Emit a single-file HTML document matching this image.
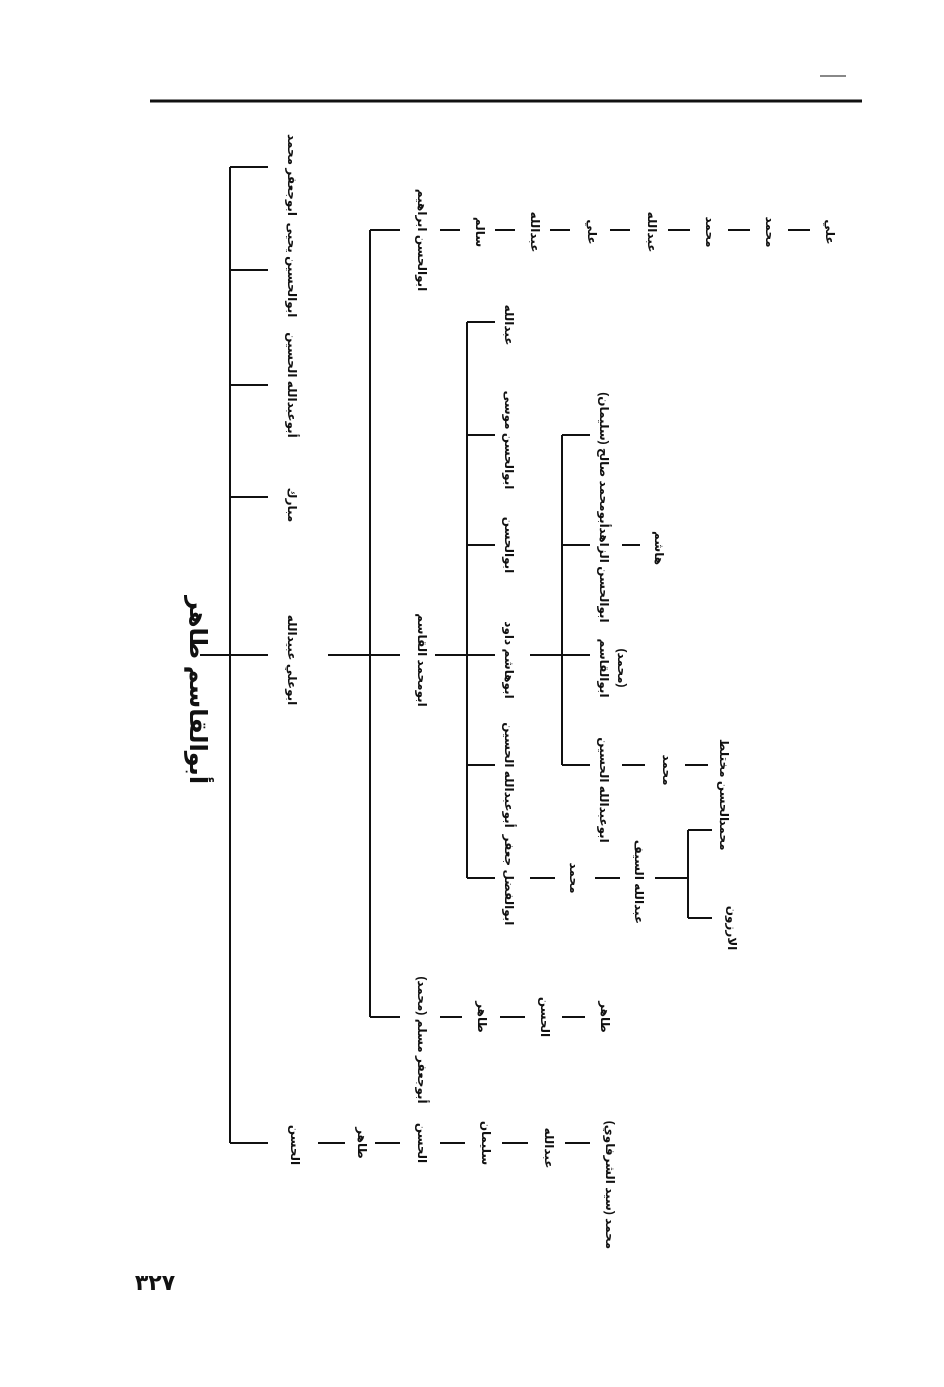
<!DOCTYPE html>
<html><head><meta charset="utf-8"><style>
html,body{margin:0;padding:0;background:#fff}
svg{display:block}
text{font-family:"Liberation Sans","DejaVu Sans",sans-serif;font-size:12px;font-weight:bold;fill:#111}
</style></head><body>
<svg width="944" height="1387" viewBox="0 0 944 1387" xmlns="http://www.w3.org/2000/svg">
<g stroke="#111" stroke-width="2" fill="none">
<line x1="150" y1="101" x2="862" y2="101" stroke-width="3"/>
<line x1="820" y1="76" x2="846" y2="76" stroke-width="1"/>
<line x1="200" y1="655" x2="230" y2="655"/>
<line x1="230" y1="167" x2="230" y2="1143"/>
<line x1="230" y1="167" x2="268" y2="167"/>
<line x1="230" y1="270" x2="268" y2="270"/>
<line x1="230" y1="385" x2="268" y2="385"/>
<line x1="230" y1="497" x2="268" y2="497"/>
<line x1="230" y1="655" x2="268" y2="655"/>
<line x1="230" y1="1143" x2="268" y2="1143"/>
<line x1="328" y1="655" x2="370" y2="655"/>
<line x1="370" y1="230" x2="370" y2="1017"/>
<line x1="370" y1="230" x2="400" y2="230"/>
<line x1="370" y1="655" x2="400" y2="655"/>
<line x1="370" y1="1017" x2="400" y2="1017"/>
<line x1="440" y1="230" x2="460" y2="230"/>
<line x1="495" y1="230" x2="515" y2="230"/>
<line x1="550" y1="230" x2="570" y2="230"/>
<line x1="610" y1="230" x2="630" y2="230"/>
<line x1="668" y1="230" x2="690" y2="230"/>
<line x1="728" y1="230" x2="750" y2="230"/>
<line x1="788" y1="230" x2="810" y2="230"/>
<line x1="435" y1="655" x2="467" y2="655"/>
<line x1="467" y1="322" x2="467" y2="878"/>
<line x1="467" y1="322" x2="495" y2="322"/>
<line x1="467" y1="435" x2="495" y2="435"/>
<line x1="467" y1="545" x2="495" y2="545"/>
<line x1="467" y1="655" x2="495" y2="655"/>
<line x1="467" y1="765" x2="495" y2="765"/>
<line x1="467" y1="878" x2="495" y2="878"/>
<line x1="530" y1="655" x2="562" y2="655"/>
<line x1="562" y1="435" x2="562" y2="765"/>
<line x1="562" y1="435" x2="590" y2="435"/>
<line x1="562" y1="545" x2="590" y2="545"/>
<line x1="562" y1="655" x2="590" y2="655"/>
<line x1="562" y1="765" x2="590" y2="765"/>
<line x1="622" y1="545" x2="640" y2="545"/>
<line x1="622" y1="765" x2="645" y2="765"/>
<line x1="685" y1="765" x2="708" y2="765"/>
<line x1="530" y1="878" x2="555" y2="878"/>
<line x1="595" y1="878" x2="620" y2="878"/>
<line x1="655" y1="878" x2="688" y2="878"/>
<line x1="688" y1="830" x2="688" y2="918"/>
<line x1="688" y1="830" x2="712" y2="830"/>
<line x1="688" y1="918" x2="712" y2="918"/>
<line x1="440" y1="1017" x2="462" y2="1017"/>
<line x1="500" y1="1017" x2="525" y2="1017"/>
<line x1="562" y1="1017" x2="585" y2="1017"/>
<line x1="318" y1="1143" x2="345" y2="1143"/>
<line x1="375" y1="1143" x2="400" y2="1143"/>
<line x1="440" y1="1143" x2="465" y2="1143"/>
<line x1="502" y1="1143" x2="528" y2="1143"/>
<line x1="565" y1="1143" x2="590" y2="1143"/>
</g>
<g>
<text transform="translate(190,690) rotate(90)" text-anchor="middle" style="font-size:24px;font-weight:bold">أبوالقاسم طاهر</text>
<text transform="translate(288,175) rotate(90)" text-anchor="middle">ابوجعفر محمد</text>
<text transform="translate(288,270) rotate(90)" text-anchor="middle">ابوالحسين يحيى</text>
<text transform="translate(288,385) rotate(90)" text-anchor="middle">أبوعبدالله الحسين</text>
<text transform="translate(288,505) rotate(90)" text-anchor="middle">مبارك</text>
<text transform="translate(288,660) rotate(90)" text-anchor="middle">ابوعلي عبيدالله</text>
<text transform="translate(291,1145) rotate(90)" text-anchor="middle">الحسن</text>
<text transform="translate(418,240) rotate(90)" text-anchor="middle">ابوالحسن ابراهيم</text>
<text transform="translate(418,660) rotate(90)" text-anchor="middle">ابومحمد القاسم</text>
<text transform="translate(418,1040) rotate(90)" text-anchor="middle">أبوجعفر مسلم (محمد)</text>
<text transform="translate(476,232) rotate(90)" text-anchor="middle">سالم</text>
<text transform="translate(531,232) rotate(90)" text-anchor="middle">عبدالله</text>
<text transform="translate(588,232) rotate(90)" text-anchor="middle">علي</text>
<text transform="translate(648,232) rotate(90)" text-anchor="middle">عبدالله</text>
<text transform="translate(706,232) rotate(90)" text-anchor="middle">محمد</text>
<text transform="translate(766,232) rotate(90)" text-anchor="middle">محمد</text>
<text transform="translate(826,232) rotate(90)" text-anchor="middle">علي</text>
<text transform="translate(505,325) rotate(90)" text-anchor="middle">عبدالله</text>
<text transform="translate(505,440) rotate(90)" text-anchor="middle">ابوالحسن موسى</text>
<text transform="translate(505,545) rotate(90)" text-anchor="middle">ابوالحسن</text>
<text transform="translate(505,660) rotate(90)" text-anchor="middle">ابوهاشم داود</text>
<text transform="translate(505,775) rotate(90)" text-anchor="middle">أبوعبدالله الحسين</text>
<text transform="translate(505,880) rotate(90)" text-anchor="middle">ابوالفضل جعفر</text>
<text transform="translate(600,460) rotate(90)" text-anchor="middle">أبومحمد صالح (سليمان)</text>
<text transform="translate(600,575) rotate(90)" text-anchor="middle">ابوالحسن الزاهد</text>
<text transform="translate(600,668) rotate(90)" text-anchor="middle">ابوالقاسم</text>
<text transform="translate(618,668) rotate(90)" text-anchor="middle">(محمد)</text>
<text transform="translate(600,790) rotate(90)" text-anchor="middle">ابوعبدالله الحسين</text>
<text transform="translate(655,548) rotate(90)" text-anchor="middle">هاشم</text>
<text transform="translate(663,770) rotate(90)" text-anchor="middle">محمد</text>
<text transform="translate(720,780) rotate(90)" text-anchor="middle">الحسن مختلط</text>
<text transform="translate(570,878) rotate(90)" text-anchor="middle">محمد</text>
<text transform="translate(635,882) rotate(90)" text-anchor="middle">عبدالله السيف</text>
<text transform="translate(720,835) rotate(90)" text-anchor="middle">محمد</text>
<text transform="translate(728,928) rotate(90)" text-anchor="middle">الارزون</text>
<text transform="translate(478,1017) rotate(90)" text-anchor="middle">طاهر</text>
<text transform="translate(541,1017) rotate(90)" text-anchor="middle">الحسن</text>
<text transform="translate(601,1017) rotate(90)" text-anchor="middle">طاهر</text>
<text transform="translate(358,1143) rotate(90)" text-anchor="middle">طاهر</text>
<text transform="translate(418,1143) rotate(90)" text-anchor="middle">الحسن</text>
<text transform="translate(482,1143) rotate(90)" text-anchor="middle">سليمان</text>
<text transform="translate(545,1148) rotate(90)" text-anchor="middle">عبدالله</text>
<text transform="translate(606,1185) rotate(90)" text-anchor="middle">محمد (سيد الشرفاوي)</text>
<text x="155" y="1290" text-anchor="middle" style="font-size:22px;font-weight:bold">٣٢٧</text>
</g>
</svg>
</body></html>
